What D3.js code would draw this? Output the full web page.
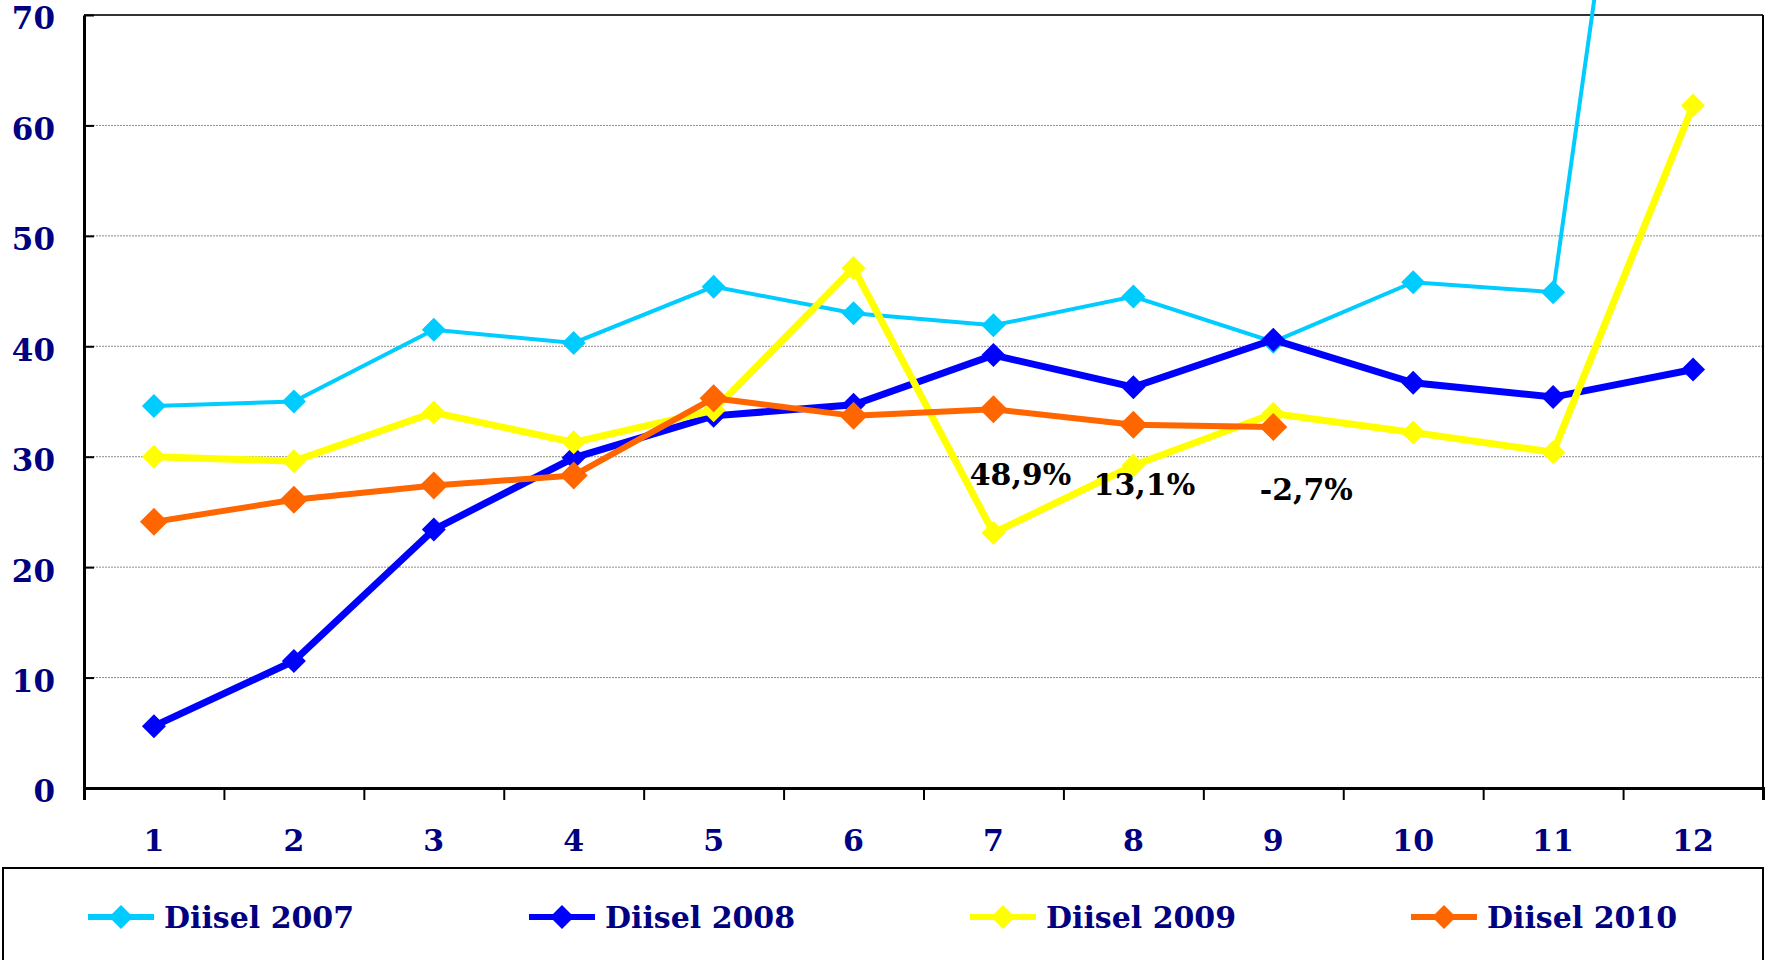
<!DOCTYPE html>
<html>
<head>
<meta charset="utf-8">
<script src="https://cdn.jsdelivr.net/npm/d3@7"></script>
<style>
html,body{margin:0;padding:0;background:#fff;}
svg{display:block;}
</style>
</head>
<body>
<svg id="chart" width="1767" height="960"></svg>
<script>
const months = ["1","2","3","4","5","6","7","8","9","10","11","12"];
const yTicks = [0,10,20,30,40,50,60,70];
const diisel2007 = [34.6,35.0,41.5,40.3,45.4,43.0,41.9,44.5,40.4,45.8,44.9,135];
const diisel2008 = [5.6,11.5,23.4,29.9,33.7,34.7,39.2,36.3,40.6,36.7,35.4,37.9];
const diisel2009 = [30.0,29.6,34.0,31.3,34.2,47.1,23.1,29.2,33.9,32.2,30.4,61.8];
const diisel2010 = [24.1,26.1,27.4,28.3,35.3,33.7,34.3,32.9,32.7,null,null,null];
const seriesNames = ["Diisel 2007","Diisel 2008","Diisel 2009","Diisel 2010"];
const annoTexts = ["48,9%","13,1%","-2,7%"];
const annoMonths = ["7","8","9"];
const annoValues = [27.4,26.5,26.1];

const series = [
  {name: seriesNames[0], values: diisel2007, color: "#00CCFF", width: 4, r: 12},
  {name: seriesNames[1], values: diisel2008, color: "#0000FF", width: 7, r: 12},
  {name: seriesNames[2], values: diisel2009, color: "#FFFF00", width: 7, r: 12},
  {name: seriesNames[3], values: diisel2010, color: "#FF6600", width: 6, r: 14}
];

const svg = d3.select("#chart");
const W = 1767, H = 960;
const L = 84, R = 1763, T = 15, B = 788;
const navy = "#000080";
const font = "'DejaVu Serif', Georgia, serif";

svg.append("rect").attr("width", W).attr("height", H).attr("fill", "#fff");

const x = d3.scaleBand().domain(months).range([L, R]);
const xEdges = d3.scaleLinear().domain([0, months.length]).range([L, R]);
const y = d3.scaleLinear().domain([0, 70]).range([B, T]);

// gridlines
svg.append("g").selectAll("line").data(yTicks.filter(v => v > 0 && v < 70)).join("line")
  .attr("x1", L).attr("x2", R)
  .attr("y1", d => y(d)).attr("y2", d => y(d))
  .attr("stroke", "#8c8c8c").attr("stroke-width", 1).attr("stroke-dasharray", "2,1");

// plot border top & right
svg.append("line").attr("x1", L).attr("x2", R).attr("y1", y(70)).attr("y2", y(70))
  .attr("stroke", "#333").attr("stroke-width", 2);
svg.append("line").attr("x1", R).attr("x2", R).attr("y1", T).attr("y2", B)
  .attr("stroke", "#000").attr("stroke-width", 2);

// y axis
const yAxis = svg.append("g").attr("transform", `translate(${L},0)`)
  .call(d3.axisLeft(y).tickValues(yTicks).tickSizeInner(-10).tickSizeOuter(0).tickPadding(29));
yAxis.select(".domain").attr("stroke", "#000").attr("stroke-width", 3);
yAxis.selectAll(".tick line").attr("stroke", "#000").attr("stroke-width", 2);
yAxis.selectAll("text").attr("font-family", font).attr("font-weight", "bold")
  .attr("font-size", 31).attr("fill", navy).attr("dy", "0.45em");

// x axis ticks at band edges
const xTickAxis = svg.append("g").attr("transform", `translate(0,${B})`)
  .call(d3.axisBottom(xEdges).tickValues(d3.range(0, months.length + 1)).tickSize(12).tickFormat(""));
xTickAxis.select(".domain").attr("stroke", "#000").attr("stroke-width", 3);
xTickAxis.selectAll(".tick line").attr("stroke", "#000").attr("stroke-width", 2);

// x labels
const xLab = svg.append("g").attr("transform", `translate(0,${B})`)
  .call(d3.axisBottom(x).tickSize(0).tickPadding(42));
xLab.select(".domain").remove();
xLab.selectAll("text").attr("font-family", font).attr("font-weight", "bold")
  .attr("font-size", 30).attr("fill", navy);

// lines and markers
const line = d3.line()
  .defined(d => d.v !== null)
  .x(d => x(d.m) + x.bandwidth() / 2)
  .y(d => y(d.v));
const diamond = r => `M0,${-r}L${r},0L0,${r}L${-r},0Z`;

series.forEach(s => {
  const pts = s.values.map((v, i) => ({m: months[i], v}));
  const g = svg.append("g");
  g.append("path").datum(pts).attr("d", line)
    .attr("fill", "none").attr("stroke", s.color).attr("stroke-width", s.width)
    .attr("stroke-linejoin", "miter");
  g.selectAll("path.mk").data(pts.filter(p => p.v !== null)).join("path")
    .attr("class", "mk")
    .attr("d", diamond(s.r))
    .attr("transform", p => `translate(${x(p.m) + x.bandwidth() / 2},${y(p.v)})`)
    .attr("fill", s.color);
});

// annotations
const annoDx = [27, 11, 33];
svg.append("g").selectAll("text").data(annoTexts).join("text")
  .attr("x", (t, i) => x(annoMonths[i]) + x.bandwidth() / 2 + annoDx[i])
  .attr("y", (t, i) => y(annoValues[i]))
  .attr("text-anchor", "middle")
  .attr("font-family", font).attr("font-weight", "bold").attr("font-size", 30)
  .attr("fill", "#000").text(t => t);

// legend
svg.append("rect").attr("x", 3).attr("y", 868).attr("width", 1760).attr("height", 110)
  .attr("fill", "none").attr("stroke", "#000").attr("stroke-width", 2);
const legX = d3.scaleLinear().domain([0, 1]).range([88, 529]);
const leg = svg.append("g").selectAll("g").data(series).join("g")
  .attr("transform", (s, i) => `translate(${legX(i)},917)`);
leg.append("line").attr("x1", 0).attr("x2", 66).attr("y1", 0).attr("y2", 0)
  .attr("stroke", s => s.color).attr("stroke-width", 6);
leg.append("path").attr("d", diamond(12)).attr("transform", "translate(33,0)")
  .attr("fill", s => s.color);
leg.append("text").attr("x", 76).attr("y", 0).attr("dy", "0.36em")
  .attr("font-family", font).attr("font-weight", "bold").attr("font-size", 30)
  .attr("fill", navy).text(s => s.name);
</script>
</body>
</html>
